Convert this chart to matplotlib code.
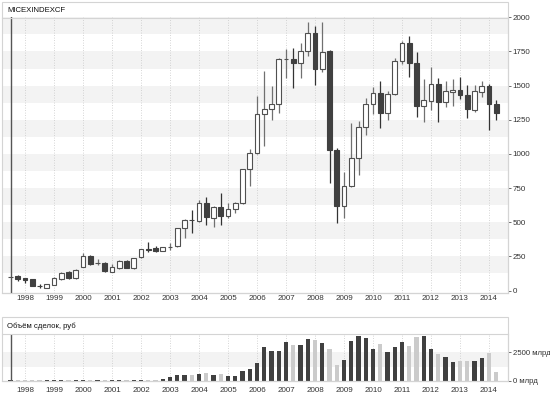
import numpy as np
import matplotlib.pyplot as plt
from matplotlib.patches import Rectangle
from matplotlib.lines import Line2D

plt.rcParams["font.family"] = ["Liberation Sans", "DejaVu Sans"]

# quarterly candles, 1997Q3 .. 2014Q2
opens = [100, 106, 89, 82, 33, 22, 40, 86, 138, 89,
         174, 255, 203, 204, 138, 162, 218, 167, 243, 302,
         311, 289, 320, 326, 455, 516, 511, 643, 528, 609,
         548, 597, 638, 889, 1009, 1292, 1326, 1365, 1692, 1695,
         1663, 1755, 1883, 1619, 1753, 1028, 618, 767, 968, 1195,
         1365, 1443, 1302, 1438, 1682, 1810, 1663, 1353, 1389, 1512,
         1382, 1455, 1468, 1431, 1321, 1455, 1497, 1365]
highs = [101, 110, 92, 85, 50, 47, 97, 133, 140, 155,
         277, 262, 230, 208, 192, 222, 222, 240, 306, 357,
         325, 322, 348, 460, 525, 589, 660, 687, 618, 711,
         640, 645, 892, 1034, 1424, 1609, 1497, 1700, 1770, 1775,
         1810, 1963, 1938, 1963, 1760, 1045, 870, 1228, 1241, 1407,
         1492, 1536, 1460, 1700, 1830, 1863, 1744, 1548, 1634, 1553,
         1536, 1546, 1560, 1504, 1504, 1536, 1512, 1394]
lows = [99, 72, 58, 30, 22, 18, 38, 80, 85, 87,
        170, 188, 185, 138, 135, 158, 163, 155, 238, 284,
        280, 286, 295, 320, 387, 419, 505, 479, 463, 479,
        528, 570, 630, 767, 1000, 1060, 1248, 1297, 1555, 1480,
        1558, 1719, 1504, 1600, 785, 492, 533, 760, 845, 1138,
        1290, 1187, 1250, 1430, 1660, 1565, 1272, 1236, 1321, 1236,
        1345, 1350, 1400, 1265, 1309, 1419, 1175, 1248]
closes = [100, 84, 76, 34, 32, 45, 89, 130, 89, 150,
          252, 192, 205, 143, 170, 218, 167, 236, 301, 300,
          289, 318, 321, 455, 516, 515, 643, 536, 609, 548,
          599, 638, 889, 1009, 1292, 1326, 1365, 1692, 1695, 1663,
          1755, 1883, 1619, 1748, 1028, 618, 767, 968, 1195, 1365,
          1443, 1302, 1438, 1682, 1810, 1663, 1353, 1394, 1512, 1382,
          1460, 1468, 1431, 1329, 1460, 1497, 1365, 1297]
# trading volume, bln rub
volumes = [40, 80, 80, 80, 70, 80, 90, 90, 80, 80,
           90, 80, 80, 80, 80, 80, 80, 80, 80, 80,
           80, 147, 353, 530, 530, 530, 617, 705, 530, 617,
           441, 441, 853, 1000, 1588, 2940, 2617, 2618, 3404, 3160,
           3160, 3675, 3612, 3314, 2772, 1418, 1806, 3522, 3973, 3765,
           2800, 3224, 2501, 2953, 3368, 3070, 3855, 3973, 2800, 2348,
           2050, 1652, 1716, 1716, 1716, 2016, 2468, 813]
years = list(range(1998, 2015))
price_ticks = [0, 250, 500, 750, 1000, 1250, 1500, 1750, 2000]
vol_ticks = [0, 2500]
vol_labels = ["0 млрд", "2500 млрд"]

W, H = 550, 397
DARK = "#404040"
LIGHT = "#cbcbcb"
BAND = "#f3f3f3"
FRAME = "#d4d4d4"
TXT = "#333333"


def box(x0, y0, x1, y1):
    return [x0 / W, 1 - y1 / H, (x1 - x0) / W, (y1 - y0) / H]


t = 1997.5 + 0.25 * np.arange(len(opens))
o, h, l, c = map(np.array, (opens, highs, lows, closes))
up = c >= o

fig = plt.figure(figsize=(W / 100, H / 100), dpi=100)

# panel frames and title strips
for y0, y1, ysep in [(2, 292.7, 18.3), (317, 381, 334)]:
    fig.add_artist(Rectangle((2 / W, 1 - y1 / H), 506 / W, (y1 - y0) / H,
                             transform=fig.transFigure, fill=False,
                             edgecolor=FRAME, linewidth=0.8))
    fig.add_artist(Line2D([2 / W, 508 / W], [1 - ysep / H] * 2,
                          transform=fig.transFigure, color=FRAME, linewidth=0.8))
fig.text(7 / W, 1 - 10.5 / H, "MICEXINDEXCF", fontsize=5.6, color="#111111", va="center")
fig.text(7 / W, 1 - 326 / H, "Объём сделок, руб", fontsize=5.6, color="#111111", va="center")

# --- price panel ---
ax = fig.add_axes(box(2, 17.3, 508, 292.7))
xlim = (1998 - 23 / 29, 1998 + 483 / 29)
ax.set_xlim(*xlim)
ax.set_ylim(-16, 2000)
for lo in range(125, 2000, 250):
    ax.axhspan(lo, lo + 125, color=BAND, linewidth=0, zorder=0)
for yr in years:
    ax.axvline(yr, color="#c8c8c8", linestyle=(0, (1, 2)), linewidth=0.6, zorder=0.5)

wick_col = np.where(up, "#707070", "#333333")
ax.vlines(t, l, h, colors=wick_col, linewidth=0.9, zorder=2)
ax.bar(t, np.abs(c - o), bottom=np.minimum(o, c), width=0.16,
       color=np.where(up, "white", DARK), edgecolor=np.where(up, "#505050", DARK),
       linewidth=0.8, zorder=3)
ax.axvline(t[0], color="#555555", linewidth=1, zorder=4)

ax.yaxis.tick_right()
ax.set_yticks(price_ticks)
ax.set_xticks(years)
ax.tick_params(axis="y", length=2.5, width=0.6, pad=1, labelsize=5.8, colors="#555555", labelcolor=TXT)
ax.tick_params(axis="x", length=0, pad=2, labelsize=5.8, labelcolor=TXT)
for s in ["top", "left"]:
    ax.spines[s].set_visible(False)
ax.spines["right"].set_color(FRAME)
ax.spines["bottom"].set_color("#c0c0c0")

# --- volume panel ---
ax2 = fig.add_axes(box(2, 334, 508, 381))
ax2.set_xlim(*xlim)
ax2.set_ylim(-20, 4110)
ax2.axhspan(1250, 2500, color=BAND, linewidth=0, zorder=0)
for yr in years:
    ax2.axvline(yr, color="#c8c8c8", linestyle=(0, (1, 2)), linewidth=0.6, zorder=0.5)
ax2.bar(t, volumes, width=0.15, color=np.where(up, DARK, LIGHT), linewidth=0, zorder=2)
ax2.axvline(t[0], color="#555555", linewidth=1, zorder=4)
ax2.hlines(0, t[0] - 0.1, t[0] + 0.1, color="#555555", linewidth=0.8, zorder=4)

ax2.yaxis.tick_right()
ax2.set_yticks(vol_ticks)
ax2.set_yticklabels(vol_labels)
ax2.set_xticks(years)
ax2.tick_params(axis="y", length=2.5, width=0.6, pad=1, labelsize=5.6, colors="#555555", labelcolor=TXT)
ax2.tick_params(axis="x", length=0, pad=4.5, labelsize=5.8, labelcolor=TXT)
for s in ["top", "left"]:
    ax2.spines[s].set_visible(False)
ax2.spines["right"].set_color(FRAME)
ax2.spines["bottom"].set_color("#c0c0c0")

fig.savefig("out.png", dpi=100)
